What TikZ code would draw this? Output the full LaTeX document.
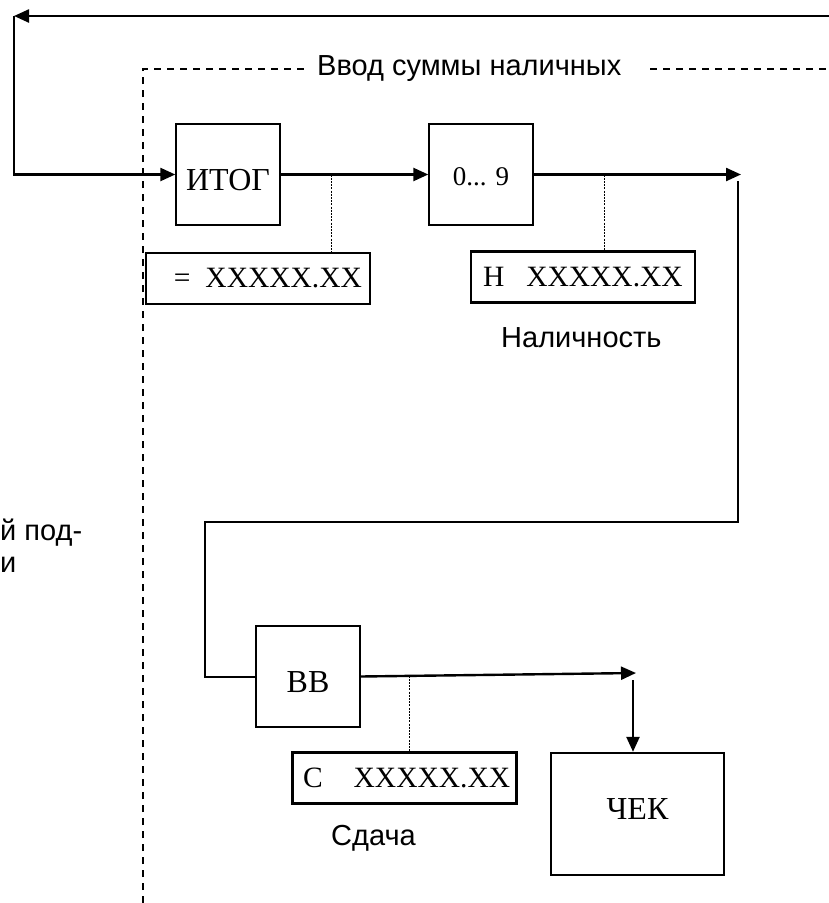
\documentclass[tikz,border=0pt]{standalone}
\usepackage{fontspec}
\setmainfont{Liberation Serif}
\newfontfamily\sansf{Liberation Sans}
\usetikzlibrary{arrows.meta}
\begin{document}
\begin{tikzpicture}[x=1pt,y=-1pt,
 conn/.style={line width=2.4pt},
 arr/.style={conn,-{Triangle[length=15pt,width=13pt]}},
 keybox/.style={draw,line width=1.4pt,minimum width=104pt,minimum height=101pt,inner sep=0pt,font=\fontsize{32}{38}\selectfont,text height=31pt,text depth=0pt},
 valbox/.style={draw,line width=2.6pt,minimum width=224pt,minimum height=51pt,inner sep=0pt,font=\fontsize{29.5}{35}\selectfont},
 lbl/.style={font=\sansf\fontsize{29}{34}\selectfont,inner sep=0pt},
 dotl/.style={line width=0.9pt,dash pattern=on 2pt off 1.2pt},
 frame/.style={line width=1.4pt,dash pattern=on 7pt off 6pt}]
\useasboundingbox (0,0) rectangle (829,903);

% boxes
\node[keybox] (itog) at (228,174.5) {ИТОГ};
\node[keybox,font=\fontsize{27}{32}\selectfont,text height=21pt] (digits) at (481,174.5) {0... 9};
\node[keybox] (bb) at (308,676.5) {ВВ};
\node[keybox,line width=2.4pt,minimum width=173pt,minimum height=122pt,text height=21pt,text depth=11pt] (chek) at (637.5,814) {ЧЕК};
\node[valbox] (eq) at (258,278.5) {\makebox[208pt][r]{=\hspace{15pt}XXXXX.XX}};
\node[valbox] (nbox) at (583,277) {\makebox[200pt][l]{Н\hspace{22pt}XXXXX.XX}};
\node[valbox] (cbox) at (404.5,778) {\makebox[203pt][l]{С\hspace{31pt}XXXXX.XX}};

% labels
\node[lbl,anchor=base west] (title) at (317,75) {Ввод суммы наличных};
\node[lbl,anchor=base west] (nal) at (501,347) {Наличность};
\node[lbl,anchor=base west] (sd) at (331,845) {Сдача};
\node[lbl,anchor=base west] (lt1) at (0,540) {й под-};
\node[lbl,anchor=base west] (lt2) at (0,572) {и};

% dashed frame
\coordinate (f0) at (143,903);
\coordinate (f1) at (143,69);
\coordinate (f2) at (310,69);
\coordinate (f3) at (650,69);
\coordinate (f4) at (829,69);
\draw[frame] (f0) -- (f1) -- (f2);
\draw[frame] (f3) -- (f4);

% connectors
\coordinate (tr) at (829,16);
\coordinate (tl) at (14,16);
\coordinate (lc) at (14,174.5);
\draw[arr] (tr) -- (tl);
\draw[arr] (tl) -- (lc) -- (itog.west);
\draw[arr] (itog.east) -- (digits.west);
\coordinate (r1) at (741,174.5);
\draw[arr] (digits.east) -- (r1);
\coordinate (r2) at (738,181);
\coordinate (r3) at (738,522);
\coordinate (l1) at (205,522);
\coordinate (l2) at (205,676.5);
\draw[conn,line width=2pt] (r2) -- (r3) -- (l1) -- (l2) -- (bb.west);
\coordinate (r4) at (636,673);
\draw[arr] (bb.east) -- (r4);
\coordinate (r5) at (633,680);
\draw[arr] (r5) -- (r5 |- chek.north);

% dotted leaders
\coordinate (d1) at (331,174.5);
\draw[dotl] (d1) -- (d1 |- eq.north);
\coordinate (d2) at (604,174.5);
\draw[dotl] (d2) -- (d2 |- nbox.north);
\coordinate (d3) at (409,675.5);
\draw[dotl] (d3) -- (d3 |- cbox.north);
\end{tikzpicture}
\end{document}
